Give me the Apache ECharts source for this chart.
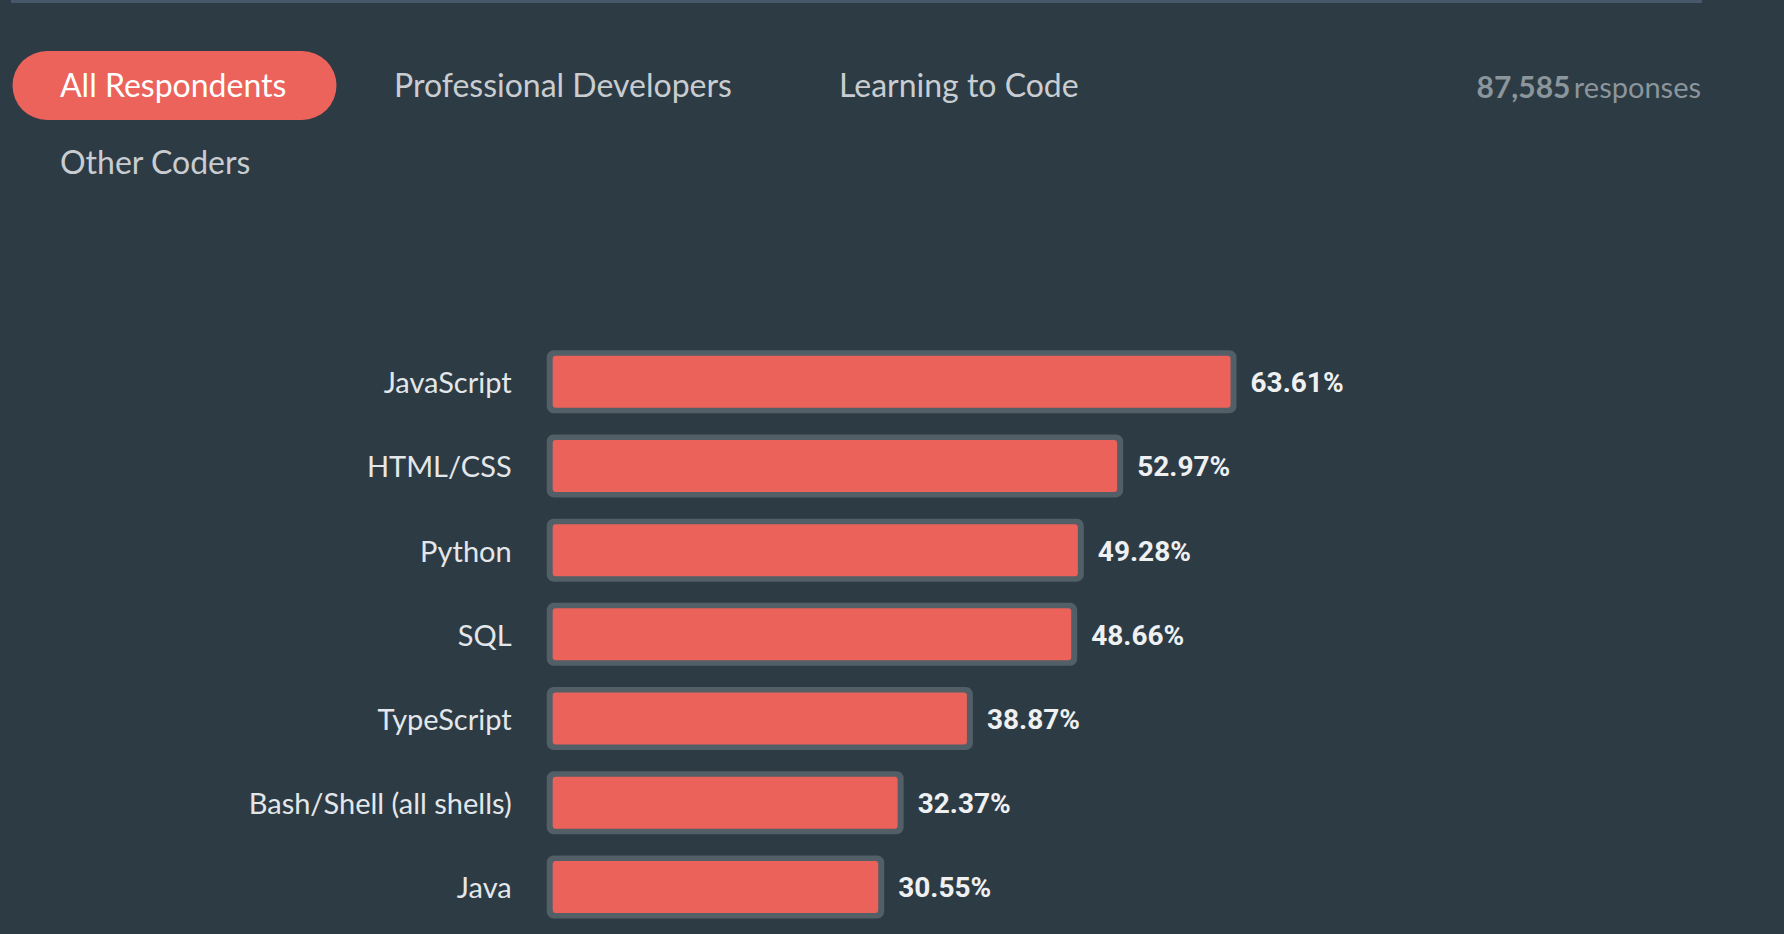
<!DOCTYPE html>
<html>
<head>
<meta charset="utf-8">
<script src="https://cdn.jsdelivr.net/npm/echarts@6/dist/echarts.min.js"></script>
<style>
html,body{margin:0;padding:0;background:#2d3b44;}
#chart{width:1784px;height:934px;}
</style>
</head>
<body>
<div id="chart"></div>
<script>
const categories = ['JavaScript', 'HTML/CSS', 'Python', 'SQL', 'TypeScript', 'Bash/Shell (all shells)', 'Java'];
const values = [63.61, 52.97, 49.28, 48.66, 38.87, 32.37, 30.55];
const tabs = ['All Respondents', 'Professional Developers', 'Learning to Code', 'Other Coders'];
const responseCount = '87,585';
const responseWord = 'responses';

const chart = echarts.init(document.getElementById('chart'), null, {renderer: 'svg'});
const seriesData = values.map((v, i) => [v, i]);
const option = {
  backgroundColor: '#2d3b44',
  animation: false,
  graphic: [
    {type: 'line', shape: {x1: 11, y1: 1.5, x2: 1702, y2: 1.5}, style: {stroke: '#46586a', lineWidth: 3}},
    {type: 'rect', shape: {x: 12.5, y: 51, width: 324, height: 69, r: 34.5}, style: {fill: '#eb635b'}},
    {type: 'text', x: 60, y: 84, style: {text: tabs[0], fill: '#ffffff', font: '32px Lato', verticalAlign: 'middle'}},
    {type: 'text', x: 394, y: 84, style: {text: tabs[1], fill: '#c9cdd1', font: '32px Lato', verticalAlign: 'middle'}},
    {type: 'text', x: 839, y: 84, style: {text: tabs[2], fill: '#c9cdd1', font: '32px Lato', verticalAlign: 'middle'}},
    {type: 'text', x: 60, y: 161, style: {text: tabs[3], fill: '#c9cdd1', font: '32px Lato', verticalAlign: 'middle'}},
    {type: 'text', x: 1701, y: 86, style: {
      text: '{a|' + responseCount + '} {b|' + responseWord + '}',
      align: 'right', verticalAlign: 'middle',
      rich: {
        a: {fontFamily: 'Lato', fontWeight: 'bold', fontSize: 30, fill: '#8b959c', color: '#8b959c'},
        b: {fontFamily: 'Lato', fontSize: 29, fill: '#8b959c', color: '#8b959c'}
      }
    }}
  ],
  grid: {left: 552.7, right: 165.7, top: 339.6, bottom: 4.9, containLabel: false},
  xAxis: {type: 'value', min: 0, max: 100, show: false},
  yAxis: {
    type: 'category', data: categories, inverse: true,
    axisLine: {show: false}, axisTick: {show: false}, splitLine: {show: false},
    axisLabel: {color: '#e4e7ea', fontFamily: 'Lato', fontSize: 29, margin: 41}
  },
  series: [{
    type: 'custom',
    data: seriesData,
    encode: {x: 0, y: 1},
    renderItem: function (params, api) {
      const v = api.value(0);
      const i = api.value(1);
      const p0 = api.coord([0, i]);
      const p1 = api.coord([v, i]);
      const w = p1[0] - p0[0];
      return {
        type: 'group',
        children: [
          {type: 'rect', shape: {x: p0[0] - 6, y: p0[1] - 31.5, width: w + 12, height: 63, r: 7},
           style: {fill: '#535f67'}},
          {type: 'rect', shape: {x: p0[0], y: p0[1] - 26, width: w, height: 52, r: 3},
           style: {fill: '#eb625a'}},
          {type: 'text', x: p1[0] + 20, y: p0[1] + 1,
           style: {text: v.toFixed(2) + '%', fill: '#eef0f2', font: 'bold 28px Roboto', verticalAlign: 'middle'}}
        ]
      };
    }
  }]
};
chart.setOption(option);
</script>
</body>
</html>
